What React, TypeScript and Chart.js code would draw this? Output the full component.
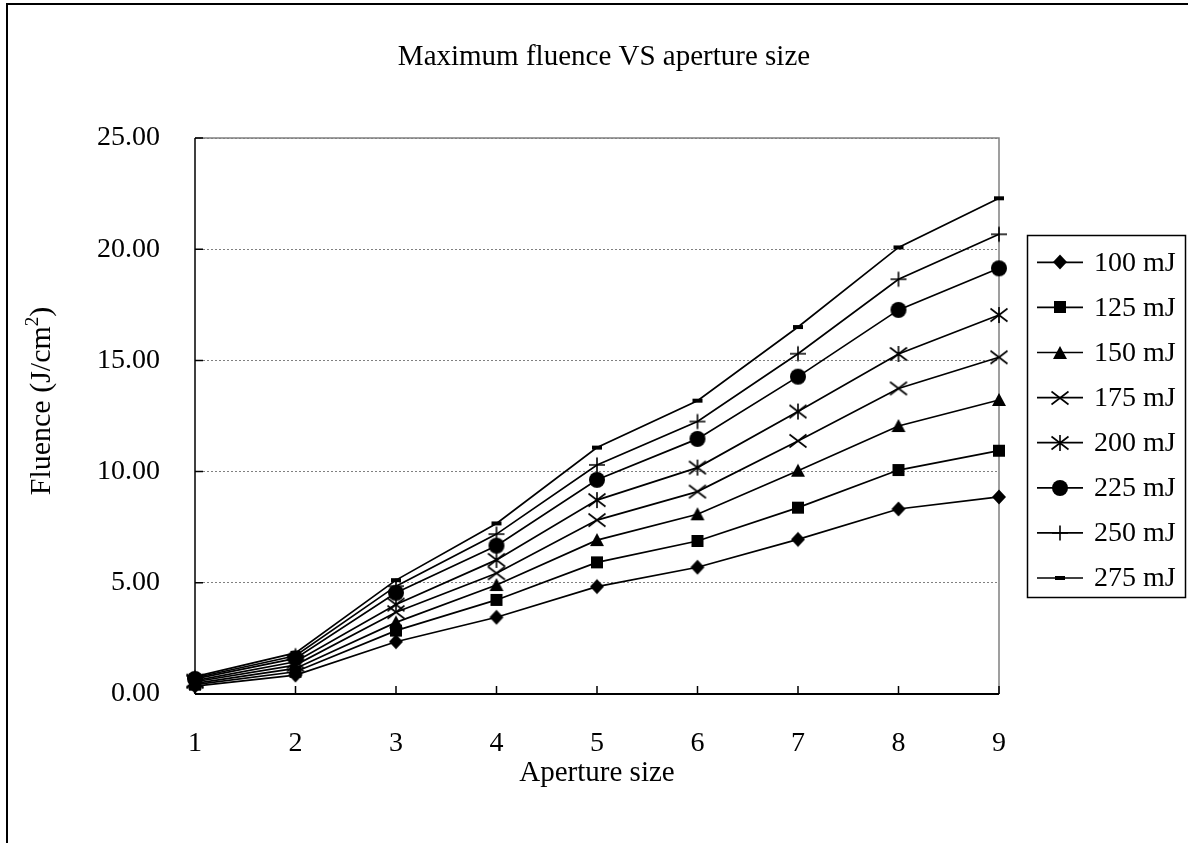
import { useEffect, useRef } from "react";
import { Chart, registerables } from "chart.js";

Chart.register(...registerables);

const FONT = "'Liberation Serif', 'Times New Roman', serif";

// Aperture sizes along the x axis
const apertureSizes = ["1", "2", "3", "4", "5", "6", "7", "8", "9"];

// Maximum fluence (J/cm²) per pulse energy
const fluence100 = [0.35, 0.85, 2.35, 3.45, 4.83, 5.7, 6.95, 8.32, 8.86];
const fluence125 = [0.42, 1.0, 2.85, 4.23, 5.92, 6.88, 8.38, 10.07, 10.94];
const fluence150 = [0.48, 1.15, 3.22, 4.9, 6.92, 8.08, 10.04, 12.05, 13.22];
const fluence175 = [0.55, 1.3, 3.68, 5.43, 7.82, 9.1, 11.38, 13.74, 15.14];
const fluence200 = [0.6, 1.45, 4.02, 6.03, 8.72, 10.18, 12.7, 15.29, 17.04];
const fluence225 = [0.68, 1.6, 4.55, 6.67, 9.63, 11.47, 14.27, 17.27, 19.14];
const fluence250 = [0.73, 1.72, 4.85, 7.19, 10.3, 12.25, 15.3, 18.65, 20.67];
const fluence275 = [0.78, 1.85, 5.12, 7.67, 11.08, 13.19, 16.5, 20.08, 22.29];

const seriesLabels = ["100 mJ", "125 mJ", "150 mJ", "175 mJ", "200 mJ", "225 mJ", "250 mJ", "275 mJ"];
const seriesValues = [fluence100, fluence125, fluence150, fluence175, fluence200, fluence225, fluence250, fluence275];
const seriesMarkers = ["diamond", "square", "triangle", "x", "asterisk", "circle", "plus", "dash"];

const yTicks = [0, 5, 10, 15, 20, 25];

const TITLE = "Maximum fluence VS aperture size";
const X_TITLE = "Aperture size";

// Small canvases used as point styles, one glyph per series
function makeMarker(kind: string): HTMLCanvasElement {
  const c = document.createElement("canvas");
  c.width = 24;
  c.height = 24;
  const g = c.getContext("2d")!;
  const cx = 12;
  const cy = 12;
  g.fillStyle = "#000";
  g.strokeStyle = "#000";
  g.lineWidth = 1.6;
  g.beginPath();
  switch (kind) {
    case "diamond":
      g.moveTo(cx, cy - 7.5);
      g.lineTo(cx + 7, cy);
      g.lineTo(cx, cy + 7.5);
      g.lineTo(cx - 7, cy);
      g.closePath();
      g.fill();
      break;
    case "square":
      g.rect(cx - 6, cy - 6, 12, 12);
      g.fill();
      break;
    case "triangle":
      g.moveTo(cx, cy - 7);
      g.lineTo(cx + 7, cy + 6);
      g.lineTo(cx - 7, cy + 6);
      g.closePath();
      g.fill();
      break;
    case "x":
      g.moveTo(cx - 8.5, cy - 6.5);
      g.lineTo(cx + 8.5, cy + 6.5);
      g.moveTo(cx + 8.5, cy - 6.5);
      g.lineTo(cx - 8.5, cy + 6.5);
      g.stroke();
      break;
    case "asterisk":
      g.moveTo(cx - 8.5, cy - 6.5);
      g.lineTo(cx + 8.5, cy + 6.5);
      g.moveTo(cx + 8.5, cy - 6.5);
      g.lineTo(cx - 8.5, cy + 6.5);
      g.moveTo(cx, cy - 8);
      g.lineTo(cx, cy + 8);
      g.stroke();
      break;
    case "circle":
      g.arc(cx, cy, 8, 0, Math.PI * 2);
      g.fill();
      break;
    case "plus":
      g.moveTo(cx - 8, cy);
      g.lineTo(cx + 8, cy);
      g.moveTo(cx, cy - 7.5);
      g.lineTo(cx, cy + 7.5);
      g.stroke();
      break;
    case "dash":
      g.rect(cx - 5, cy - 2, 10, 4);
      g.fill();
      break;
  }
  return c;
}

export default function App() {
  const canvasRef = useRef<HTMLCanvasElement | null>(null);

  useEffect(() => {
    const canvas = canvasRef.current;
    if (!canvas) return;
    const markers = seriesMarkers.map(makeMarker);

    const framePlugin = {
      id: "frame",
      beforeDatasetsDraw(chart: any) {
        const { ctx, chartArea: a, scales } = chart;
        ctx.save();
        // plot border (top, right) in grey
        ctx.strokeStyle = "#808080";
        ctx.lineWidth = 1.5;
        ctx.beginPath();
        ctx.moveTo(a.left, a.top);
        ctx.lineTo(a.right, a.top);
        ctx.lineTo(a.right, a.bottom);
        ctx.stroke();
        // value and category axes in black
        ctx.strokeStyle = "#000";
        ctx.lineWidth = 1.5;
        ctx.beginPath();
        ctx.moveTo(a.left, a.top);
        ctx.lineTo(a.left, a.bottom);
        ctx.stroke();
        ctx.lineWidth = 2;
        ctx.beginPath();
        ctx.moveTo(a.left, a.bottom);
        ctx.lineTo(a.right, a.bottom);
        ctx.stroke();
        // inside tick marks
        ctx.lineWidth = 1.5;
        ctx.beginPath();
        apertureSizes.forEach((_, i) => {
          const x = scales.x.getPixelForValue(i);
          ctx.moveTo(x, a.bottom);
          ctx.lineTo(x, a.bottom - 8);
        });
        yTicks.forEach((v) => {
          const y = scales.y.getPixelForValue(v);
          ctx.moveTo(a.left, y);
          ctx.lineTo(a.left + 8, y);
        });
        ctx.stroke();
        ctx.restore();
      },
      afterDraw(chart: any) {
        const { ctx } = chart;
        ctx.save();
        // outer chart border
        ctx.strokeStyle = "#000";
        ctx.lineWidth = 2;
        ctx.beginPath();
        ctx.moveTo(7, 860);
        ctx.lineTo(7, 4);
        ctx.lineTo(1200, 4);
        ctx.stroke();

        ctx.fillStyle = "#000";
        ctx.textAlign = "center";
        ctx.textBaseline = "middle";
        ctx.font = `29px ${FONT}`;
        ctx.fillText(TITLE, 604, 57);
        ctx.font = `29px ${FONT}`;
        ctx.fillText(X_TITLE, 597, 773);

        // y axis title with superscript
        ctx.save();
        ctx.translate(40, 401);
        ctx.rotate(-Math.PI / 2);
        ctx.textAlign = "left";
        ctx.textBaseline = "alphabetic";
        const main = "Fluence (J/cm";
        const sup = "2";
        const close = ")";
        const big = `30px ${FONT}`;
        const small = `19px ${FONT}`;
        ctx.font = big;
        const w1 = ctx.measureText(main).width;
        const w3 = ctx.measureText(close).width;
        ctx.font = small;
        const w2 = ctx.measureText(sup).width;
        let x0 = -(w1 + w2 + w3) / 2;
        ctx.font = big;
        ctx.fillText(main, x0, 10);
        x0 += w1;
        ctx.font = small;
        ctx.fillText(sup, x0, -2);
        x0 += w2;
        ctx.font = big;
        ctx.fillText(close, x0, 10);
        ctx.restore();

        // legend
        ctx.lineWidth = 1.5;
        ctx.strokeStyle = "#000";
        ctx.strokeRect(1027.5, 235.5, 158, 362);
        ctx.font = `28px ${FONT}`;
        ctx.textAlign = "left";
        ctx.textBaseline = "middle";
        chart.data.datasets.forEach((ds: any, i: number) => {
          const y = 262.3 + i * 45.1;
          ctx.lineWidth = 1.7;
          ctx.beginPath();
          ctx.moveTo(1037, y);
          ctx.lineTo(1083, y);
          ctx.stroke();
          const m = markers[i];
          ctx.drawImage(m, Math.round(1060 - m.width / 2), Math.round(y - m.height / 2));
          ctx.fillText(ds.label, 1094, y + 1);
        });
        ctx.restore();
      },
    };

    const chart = new Chart(canvas, {
      type: "line",
      data: {
        labels: apertureSizes,
        datasets: seriesValues.map((vals, i) => ({
          label: seriesLabels[i],
          data: vals,
          borderColor: "#000",
          backgroundColor: "#000",
          borderWidth: 1.7,
          pointStyle: markers[i] as any,
          pointRadius: 8,
          pointHoverRadius: 8,
          tension: 0,
          clip: false as any,
        })),
      },
      options: {
        responsive: false,
        animation: false,
        devicePixelRatio: 1,
        events: [],
        layout: { padding: { left: 0, top: 138, right: 189, bottom: 0 } },
        plugins: {
          legend: { display: false },
          title: { display: false },
          tooltip: { enabled: false },
        },
        scales: {
          x: {
            type: "category",
            offset: false,
            grid: { display: false, drawTicks: false },
            border: { display: false },
            ticks: {
              color: "#000",
              font: { family: FONT, size: 28 },
              padding: 33,
              maxRotation: 0,
              autoSkip: false,
            },
            afterFit(scale: any) {
              scale.height = 149;
            },
          },
          y: {
            type: "linear",
            min: 0,
            max: 25,
            grid: { color: "#808080", lineWidth: 1, drawTicks: false },
            border: { display: false, dash: [2, 2] },
            ticks: {
              stepSize: 5,
              color: "#000",
              font: { family: FONT, size: 28 },
              padding: 35,
              callback: (v: any) => Number(v).toFixed(2),
            },
            afterFit(scale: any) {
              scale.width = 195;
            },
          },
        },
      },
      plugins: [framePlugin],
    });

    return () => chart.destroy();
  }, []);

  return (
    <div style={{ position: "fixed", left: 0, top: 0, width: 1188, height: 843, background: "#fff" }}>
      <canvas ref={canvasRef} width={1188} height={843} style={{ display: "block" }} />
    </div>
  );
}
